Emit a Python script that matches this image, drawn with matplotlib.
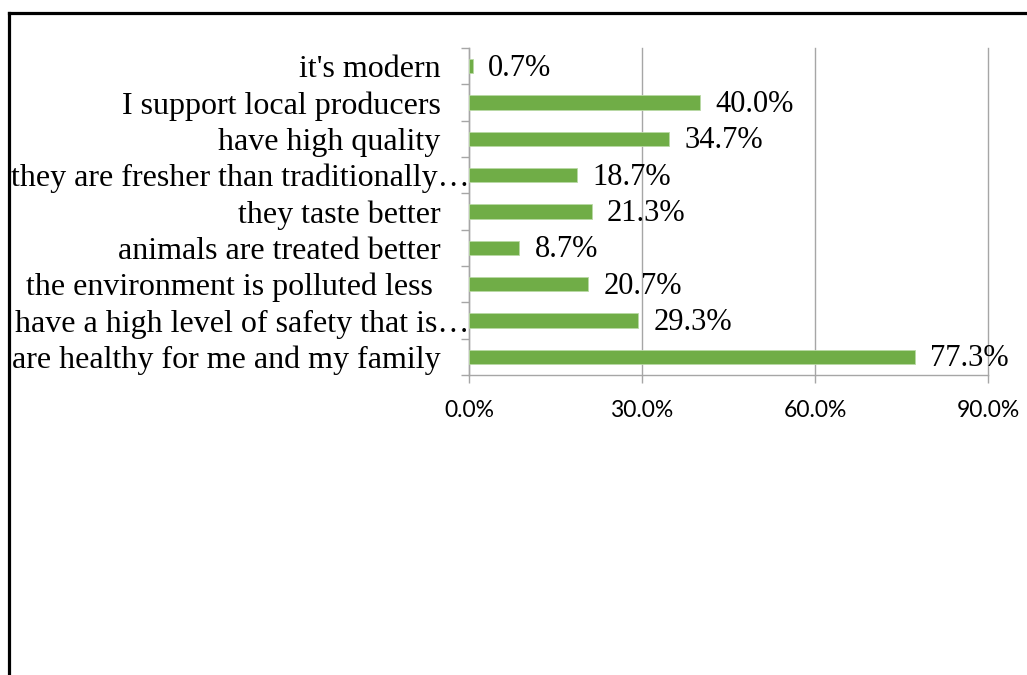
import matplotlib
matplotlib.use("Agg")
import matplotlib.pyplot as plt
from matplotlib.lines import Line2D
import matplotlib.transforms as mtransforms
import numpy as np

categories = [
    "it's modern",
    "I support local producers",
    "have high quality",
    "they are fresher than traditionally…",
    "they taste better",
    "animals are treated better",
    "the environment is polluted less ",
    "have a high level of safety that is…",
    "are healthy for me and my family",
]
values = [0.7, 40.0, 34.7, 18.7, 21.3, 8.7, 20.7, 29.3, 77.3]
xticks = [0, 30, 60, 90]
xtick_labels = ["0.0%", "30.0%", "60.0%", "90.0%"]

W, H = 1027, 675
fig = plt.figure(figsize=(W / 100, H / 100), dpi=100)
left_px, right_px, top_px, bot_px = 469, 988, 48, 375
ax = fig.add_axes([left_px / W, 1 - bot_px / H, (right_px - left_px) / W, (bot_px - top_px) / H])

n = len(categories)
ypos = np.arange(n)[::-1]
green = "#70AD47"
grid_c = "#A6A6A6"
ax.barh(ypos, values, height=0.4, color=green, edgecolor="#B9D9A5", linewidth=0.6, zorder=3)

serif = "Liberation Serif"
for y, v in zip(ypos, values):
    ax.annotate(f"{v:.1f}%", xy=(v, y), xytext=(11, -1.5), textcoords="offset points",
                ha="left", va="center", fontsize=22, family=serif, color="black", zorder=4)

ax.set_xlim(0, 90)
ax.set_ylim(-0.5, n - 0.5)
ax.set_xticks(xticks)
ax.set_xticklabels(xtick_labels, family="Lato", fontsize=16.5)
ax.tick_params(axis="x", direction="out", length=5.8, width=1, color=grid_c, pad=12)
ax.set_yticks(ypos)
ax.set_yticklabels(categories, family=serif, fontsize=23)
ax.tick_params(axis="y", which="major", length=0, pad=20.5)
ax.set_yticks(np.arange(-0.5, n, 1.0), minor=True)
ax.tick_params(axis="y", which="minor", direction="out", length=5.8, width=1, color=grid_c)

for lab in ax.get_yticklabels():
    if lab.get_text().endswith("…"):
        lab.set_transform(lab.get_transform() + mtransforms.ScaledTranslation(29 / 100, 0, fig.dpi_scale_trans))

ax.xaxis.grid(True, color=grid_c, linewidth=1, zorder=0)
ax.set_axisbelow(True)
for gl in ax.get_xgridlines():
    gl.set_clip_on(False)
for s in ["top", "right"]:
    ax.spines[s].set_visible(False)
for s in ["left", "bottom"]:
    ax.spines[s].set_color(grid_c)
    ax.spines[s].set_linewidth(1)

# outer border (left and top)
bx = 8.5 / W
by = 1 - 13 / H
fig.add_artist(Line2D([bx, bx], [0, by], transform=fig.transFigure, color="black", linewidth=2.3))
fig.add_artist(Line2D([bx, 1], [by, by], transform=fig.transFigure, color="black", linewidth=2.3))

fig.savefig("out.png", dpi=100)
